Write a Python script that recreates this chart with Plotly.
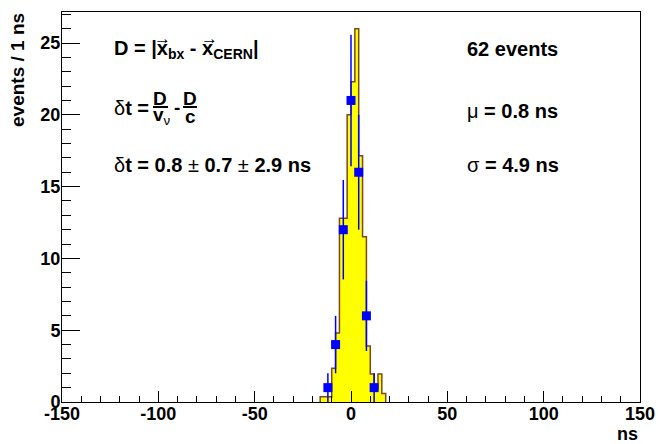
import numpy as np
import plotly.graph_objects as go

# ---- data ----
bin_edges = [-16, -14, -12, -10, -8, -6, -4, -2, 0, 2, 4, 6, 8, 10, 12, 14, 16, 18]
hist_values = [0.37, 0.37, 0.37, 2.35, 4.8, 12.8, 12.8, 20.0, 22.3, 26.0,
               17.15, 11.5, 3.9, 1.95, 0.9, 1.95, 0.6]
data_x = [-12, -8, -4, 0, 4, 8, 12]
data_y = [1, 4, 12, 21, 16, 6, 1]
data_err = list(np.sqrt(data_y))
x_ticks = [-150, -100, -50, 0, 50, 100, 150]
y_ticks = [0, 5, 10, 15, 20, 25]

W, H = 658, 444
L, R, T, B = 62, 640, 12, 402
FONT = "Liberation Sans, Arial, Helvetica, sans-serif"


def P(xp, yp):
    return (xp - L) / (R - L), (B - yp) / (B - T)


step_x = [bin_edges[0]] + bin_edges[:-1] + [bin_edges[-1]]
step_y = [0] + hist_values + [0]

fig = go.Figure()
fig.add_trace(go.Scatter(
    x=step_x, y=step_y, mode="lines", line=dict(shape="hv", color="#7a4a1c", width=1.5),
    fill="tozeroy", fillcolor="#ffff00", hoverinfo="skip", showlegend=False))
fig.add_trace(go.Scatter(
    x=data_x, y=data_y, mode="markers",
    marker=dict(symbol="square", size=9, color="#0000ff"),
    error_y=dict(type="data", array=data_err, color="#0000ff", thickness=1.5, width=0),
    showlegend=False))

axfont = dict(family=FONT, size=18, color="black", weight="bold")
fig.update_layout(
    width=W, height=H,
    margin=dict(l=L, r=W - R, t=T, b=H - B, pad=0, autoexpand=False),
    plot_bgcolor="white", paper_bgcolor="white",
    xaxis=dict(range=[-150, 150], tickmode="array", tickvals=x_ticks,
               ticktext=[str(v) for v in x_ticks], automargin=False,
               ticks="inside", ticklen=11, tickwidth=1, tickcolor="black",
               ticklabelstandoff=-5,
               showline=True, linecolor="black", linewidth=1, mirror=True,
               showgrid=False, zeroline=False, tickfont=axfont,
               minor=dict(ticks="inside", ticklen=6, dtick=10, tick0=0,
                          tickcolor="black", tickwidth=1, showgrid=False)),
    yaxis=dict(range=[0, 27.16], tickmode="array", tickvals=y_ticks,
               ticktext=[str(v) for v in y_ticks], automargin=False,
               ticks="inside", ticklen=18, tickwidth=1, tickcolor="black",
               ticklabelstandoff=-3,
               showline=True, linecolor="black", linewidth=1, mirror=True,
               showgrid=False, zeroline=False, tickfont=axfont,
               minor=dict(ticks="inside", ticklen=9, dtick=1, tick0=0,
                          tickcolor="black", tickwidth=1, showgrid=False)),
)

anns = []


def ann(text, xp, yp, size=20, xanchor="left", yanchor="middle", angle=0):
    x, y = P(xp, yp)
    anns.append(dict(text=text, x=x, y=y, xref="paper", yref="paper",
                     xanchor=xanchor, yanchor=yanchor, showarrow=False,
                     textangle=angle,
                     font=dict(family=FONT, size=size, color="black")))


ann("<b>D = |x<sub>bx</sub> - x<sub>CERN</sub>|</b>", 112, 50)
# vector arrows above the two x's
ann("<b>\u2192</b>", 162, 39, size=17, xanchor="center")
ann("<b>\u2192</b>", 209, 39, size=17, xanchor="center")
ann("\u03b4<b>t =</b>", 112, 108)
ann("<b>D</b>", 160, 98, size=19, xanchor="center")
ann("<b>v</b><sub>\u03bd</sub>", 162, 116, size=19, xanchor="center")
ann("<b>-</b>", 177, 107, size=19, xanchor="center")
ann("<b>D</b>", 190, 98, size=19, xanchor="center")
ann("<b>c</b>", 190, 116, size=19, xanchor="center")
ann("\u03b4<b>t = 0.8 </b>\u00b1<b> 0.7 </b>\u00b1<b> 2.9 ns</b>", 112, 165)
ann("<b>62 events</b>", 465, 49)
ann("\u03bc<b> = 0.8 ns</b>", 465, 111)
ann("\u03c3<b> = 4.9 ns</b>", 465, 165)
ann("<b>ns</b>", 640, 434, size=18, xanchor="right")
ann("<b>events / 1 ns</b>", 17, 11, size=19, xanchor="center", yanchor="top", angle=-90)
fig.update_layout(annotations=anns)

shapes = []
for x0, x1 in [(153, 168), (183, 197)]:
    a0, b0 = P(x0, 107)
    a1, _ = P(x1, 107)
    shapes.append(dict(type="line", xref="paper", yref="paper", x0=a0, x1=a1, y0=b0, y1=b0,
                       line=dict(color="black", width=2)))
fig.update_layout(shapes=shapes)

fig.write_html("out.html", config={"displayModeBar": False},
               post_script="document.body.style.margin='0';document.body.style.padding='0';")
